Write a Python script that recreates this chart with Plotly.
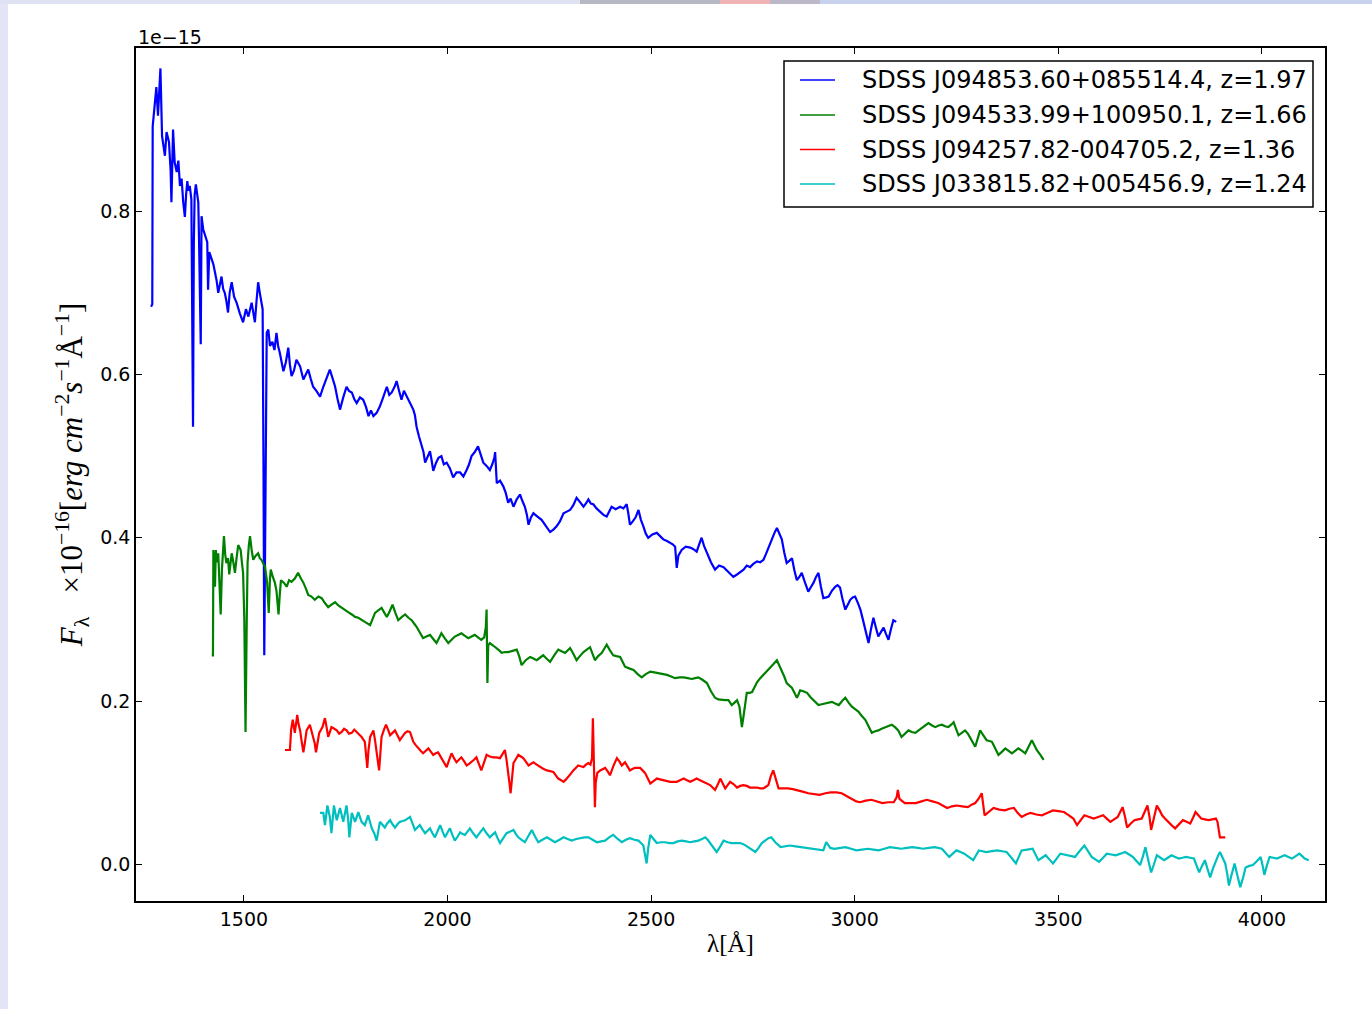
import plotly.graph_objects as go

# Rest-frame quasar spectra; flux in units of 1e-15 erg cm^-2 s^-1 A^-1
labels = [
    "SDSS J094853.60+085514.4, z=1.97",
    "SDSS J094533.99+100950.1, z=1.66",
    "SDSS J094257.82-004705.2, z=1.36",
    "SDSS J033815.82+005456.9, z=1.24",
]
colors = ["#0000ff", "#008000", "#ff0000", "#00bfbf"]

wave_a = [1272, 1275, 1276, 1281, 1285, 1289, 1292, 1295, 1299, 1302, 1306, 1310, 1316, 1320, 1322, 1326, 1330, 1335, 1339, 1343,
          1347, 1351, 1355, 1358, 1361, 1364, 1367, 1371, 1373, 1375, 1377, 1379, 1382, 1385, 1388, 1390, 1392, 1394, 1396, 1400,
          1405, 1410, 1412, 1415, 1421, 1425, 1429, 1433, 1437, 1441, 1445, 1449, 1453, 1457, 1461, 1465, 1470, 1476, 1482, 1490,
          1498, 1505, 1511, 1519, 1523, 1527, 1531, 1535, 1539, 1543, 1546, 1548, 1550, 1553, 1556, 1560, 1564, 1570, 1575, 1580,
          1584, 1588, 1592, 1597, 1603, 1609, 1613, 1617, 1623, 1629, 1638, 1646, 1652, 1658, 1664, 1670, 1678, 1687, 1695, 1703,
          1711, 1718, 1724, 1730, 1736, 1744, 1752, 1758, 1765, 1771, 1777, 1785, 1793, 1800, 1806, 1812, 1818, 1826, 1834, 1842,
          1851, 1857, 1863, 1870, 1875, 1881, 1887, 1893, 1900, 1908, 1916, 1920, 1924, 1930, 1937, 1941, 1945, 1951, 1957, 1961,
          1965, 1972, 1978, 1985, 1991, 1998, 2006, 2014, 2022, 2031, 2039, 2047, 2053, 2059, 2067, 2075, 2081, 2088, 2096, 2104,
          2110, 2115, 2117, 2119, 2121, 2129, 2137, 2143, 2149, 2155, 2162, 2170, 2178, 2184, 2190, 2195, 2199, 2205, 2211, 2221,
          2231, 2241, 2252, 2260, 2268, 2276, 2285, 2293, 2301, 2309, 2317, 2325, 2334, 2340, 2346, 2352, 2358, 2366, 2375, 2383,
          2391, 2397, 2403, 2413, 2424, 2432, 2440, 2444, 2448, 2455, 2462, 2469, 2475, 2481, 2487, 2493, 2503, 2514, 2522, 2530,
          2539, 2547, 2553, 2559, 2563, 2567, 2575, 2585, 2596, 2604, 2612, 2618, 2624, 2630, 2637, 2647, 2657, 2667, 2678, 2686,
          2694, 2702, 2711, 2719, 2727, 2735, 2743, 2751, 2760, 2768, 2776, 2782, 2788, 2796, 2803, 2809, 2815, 2821, 2827, 2833,
          2840, 2846, 2852, 2858, 2864, 2870, 2878, 2886, 2893, 2899, 2905, 2911, 2917, 2923, 2930, 2936, 2944, 2952, 2958, 2964,
          2970, 2977, 2983, 2989, 2995, 3001, 3008, 3014, 3020, 3026, 3030, 3034, 3040, 3046, 3052, 3058, 3065, 3071, 3077, 3083,
          3089, 3095, 3102]
flux_a = [0.683, 0.686, 0.904, 0.929, 0.952, 0.917, 0.955, 0.975, 0.892, 0.880, 0.868, 0.897, 0.885, 0.850, 0.811, 0.900, 0.860, 0.848, 0.862, 0.831,
          0.840, 0.811, 0.793, 0.820, 0.837, 0.825, 0.831, 0.815, 0.700, 0.536, 0.760, 0.820, 0.833, 0.820, 0.811, 0.760, 0.700, 0.637, 0.794, 0.778,
          0.770, 0.762, 0.704, 0.750, 0.741, 0.735, 0.725, 0.715, 0.700, 0.712, 0.720, 0.705, 0.700, 0.690, 0.676, 0.700, 0.713, 0.695, 0.688, 0.675,
          0.664, 0.680, 0.671, 0.688, 0.675, 0.664, 0.690, 0.713, 0.700, 0.688, 0.680, 0.500, 0.256, 0.450, 0.651, 0.655, 0.635, 0.640, 0.630, 0.651,
          0.635, 0.627, 0.615, 0.604, 0.615, 0.633, 0.612, 0.598, 0.605, 0.618, 0.610, 0.594, 0.600, 0.606, 0.595, 0.585, 0.580, 0.573, 0.585, 0.595,
          0.606, 0.595, 0.585, 0.570, 0.557, 0.572, 0.585, 0.580, 0.578, 0.570, 0.565, 0.572, 0.569, 0.560, 0.549, 0.556, 0.549, 0.553, 0.561, 0.572,
          0.585, 0.575, 0.578, 0.585, 0.592, 0.580, 0.569, 0.580, 0.573, 0.565, 0.557, 0.550, 0.536, 0.524, 0.512, 0.505, 0.492, 0.500, 0.506, 0.495,
          0.482, 0.492, 0.498, 0.500, 0.490, 0.492, 0.485, 0.474, 0.480, 0.480, 0.475, 0.483, 0.490, 0.500, 0.505, 0.512, 0.502, 0.492, 0.488, 0.483,
          0.490, 0.498, 0.505, 0.480, 0.467, 0.470, 0.463, 0.455, 0.443, 0.448, 0.438, 0.447, 0.453, 0.445, 0.438, 0.428, 0.416, 0.425, 0.430, 0.426,
          0.422, 0.415, 0.407, 0.410, 0.414, 0.420, 0.430, 0.432, 0.434, 0.440, 0.449, 0.444, 0.438, 0.442, 0.447, 0.442, 0.441, 0.436, 0.432, 0.428,
          0.426, 0.432, 0.438, 0.435, 0.438, 0.436, 0.441, 0.430, 0.416, 0.420, 0.425, 0.434, 0.422, 0.414, 0.405, 0.400, 0.404, 0.406, 0.402, 0.398,
          0.396, 0.394, 0.392, 0.389, 0.363, 0.378, 0.385, 0.389, 0.388, 0.386, 0.383, 0.392, 0.400, 0.390, 0.381, 0.370, 0.361, 0.366, 0.364, 0.360,
          0.357, 0.352, 0.355, 0.358, 0.361, 0.366, 0.364, 0.368, 0.371, 0.370, 0.373, 0.380, 0.388, 0.398, 0.406, 0.412, 0.405, 0.398, 0.382, 0.369,
          0.372, 0.375, 0.360, 0.348, 0.352, 0.357, 0.345, 0.334, 0.340, 0.345, 0.352, 0.357, 0.340, 0.326, 0.327, 0.328, 0.335, 0.340, 0.342, 0.339,
          0.325, 0.312, 0.318, 0.324, 0.327, 0.328, 0.320, 0.312, 0.300, 0.287, 0.278, 0.271, 0.288, 0.302, 0.290, 0.279, 0.285, 0.290, 0.282, 0.275,
          0.288, 0.299, 0.297]

wave_b = [1421, 1424, 1425, 1427, 1429, 1431, 1434, 1437, 1440, 1443, 1446, 1449, 1451, 1454, 1457, 1461, 1464, 1467, 1470, 1474,
          1478, 1482, 1486, 1489, 1492, 1495, 1498, 1501, 1504, 1507, 1509, 1512, 1515, 1519, 1523, 1529, 1535, 1539, 1543, 1548,
          1552, 1557, 1561, 1564, 1566, 1571, 1576, 1580, 1585, 1588, 1591, 1598, 1605, 1611, 1617, 1625, 1633, 1640, 1646, 1652,
          1658, 1666, 1674, 1683, 1691, 1699, 1707, 1715, 1724, 1732, 1740, 1748, 1756, 1765, 1773, 1781, 1789, 1800, 1810, 1816,
          1822, 1830, 1838, 1845, 1851, 1858, 1865, 1872, 1879, 1888, 1896, 1904, 1912, 1918, 1924, 1932, 1940, 1948, 1957, 1965,
          1973, 1979, 1985, 1993, 2002, 2010, 2018, 2026, 2034, 2042, 2051, 2059, 2067, 2075, 2083, 2090, 2094, 2096, 2098, 2100,
          2104, 2112, 2121, 2127, 2133, 2141, 2149, 2160, 2170, 2176, 2182, 2192, 2203, 2211, 2219, 2227, 2235, 2243, 2252, 2262,
          2272, 2280, 2289, 2295, 2301, 2309, 2317, 2325, 2334, 2342, 2350, 2356, 2362, 2370, 2379, 2385, 2391, 2399, 2407, 2415,
          2424, 2430, 2436, 2446, 2457, 2467, 2477, 2487, 2498, 2508, 2518, 2529, 2539, 2549, 2559, 2570, 2580, 2590, 2600, 2608,
          2616, 2626, 2637, 2647, 2657, 2665, 2674, 2682, 2690, 2698, 2705, 2711, 2717, 2720, 2723, 2726, 2729, 2735, 2742, 2748,
          2754, 2760, 2768, 2776, 2784, 2792, 2800, 2809, 2815, 2821, 2827, 2833, 2840, 2846, 2852, 2858, 2862, 2866, 2874, 2883,
          2891, 2899, 2905, 2911, 2919, 2928, 2936, 2944, 2952, 2961, 2969, 2977, 2985, 2993, 3001, 3009, 3017, 3026, 3034, 3042,
          3050, 3058, 3066, 3075, 3083, 3091, 3099, 3107, 3115, 3123, 3132, 3140, 3149, 3157, 3165, 3173, 3181, 3190, 3198, 3206,
          3214, 3222, 3230, 3237, 3243, 3249, 3255, 3263, 3271, 3278, 3284, 3290, 3296, 3302, 3308, 3316, 3324, 3331, 3337, 3345,
          3353, 3362, 3370, 3378, 3386, 3394, 3402, 3411, 3419, 3427, 3435, 3441, 3447, 3456, 3464]
flux_b = [0.256, 0.256, 0.385, 0.360, 0.340, 0.385, 0.370, 0.381, 0.350, 0.306, 0.361, 0.385, 0.402, 0.380, 0.369, 0.375, 0.355, 0.368, 0.381, 0.370,
          0.357, 0.375, 0.391, 0.388, 0.385, 0.370, 0.357, 0.300, 0.162, 0.300, 0.369, 0.390, 0.402, 0.385, 0.373, 0.378, 0.381, 0.375, 0.373, 0.368,
          0.364, 0.345, 0.308, 0.350, 0.361, 0.352, 0.345, 0.335, 0.306, 0.330, 0.348, 0.345, 0.340, 0.348, 0.346, 0.350, 0.357, 0.350, 0.345, 0.338,
          0.330, 0.328, 0.324, 0.328, 0.326, 0.320, 0.315, 0.318, 0.321, 0.317, 0.314, 0.312, 0.309, 0.306, 0.303, 0.302, 0.299, 0.296, 0.293, 0.300,
          0.308, 0.311, 0.314, 0.308, 0.303, 0.310, 0.318, 0.308, 0.299, 0.303, 0.306, 0.302, 0.299, 0.295, 0.291, 0.284, 0.277, 0.279, 0.281, 0.276,
          0.271, 0.277, 0.283, 0.277, 0.271, 0.275, 0.279, 0.281, 0.283, 0.280, 0.277, 0.279, 0.281, 0.278, 0.275, 0.278, 0.290, 0.312, 0.222, 0.268,
          0.271, 0.268, 0.265, 0.262, 0.259, 0.260, 0.260, 0.262, 0.263, 0.255, 0.244, 0.250, 0.254, 0.252, 0.250, 0.253, 0.256, 0.252, 0.248, 0.256,
          0.263, 0.261, 0.259, 0.262, 0.265, 0.258, 0.250, 0.255, 0.260, 0.263, 0.266, 0.258, 0.250, 0.255, 0.259, 0.264, 0.269, 0.262, 0.256, 0.255,
          0.254, 0.248, 0.242, 0.240, 0.238, 0.233, 0.229, 0.233, 0.236, 0.235, 0.234, 0.233, 0.232, 0.230, 0.228, 0.229, 0.229, 0.228, 0.227, 0.228,
          0.229, 0.226, 0.222, 0.212, 0.204, 0.202, 0.201, 0.201, 0.201, 0.195, 0.198, 0.201, 0.193, 0.180, 0.168, 0.178, 0.189, 0.210, 0.210, 0.211,
          0.217, 0.223, 0.228, 0.232, 0.236, 0.240, 0.245, 0.250, 0.244, 0.238, 0.230, 0.222, 0.219, 0.216, 0.210, 0.204, 0.208, 0.213, 0.212, 0.210,
          0.205, 0.201, 0.198, 0.195, 0.196, 0.197, 0.198, 0.199, 0.197, 0.195, 0.200, 0.204, 0.198, 0.193, 0.190, 0.187, 0.182, 0.177, 0.169, 0.161,
          0.163, 0.164, 0.166, 0.168, 0.170, 0.171, 0.168, 0.164, 0.156, 0.160, 0.164, 0.162, 0.161, 0.164, 0.167, 0.170, 0.173, 0.170, 0.168, 0.170,
          0.171, 0.169, 0.168, 0.171, 0.174, 0.166, 0.158, 0.161, 0.164, 0.160, 0.155, 0.150, 0.144, 0.154, 0.164, 0.158, 0.152, 0.151, 0.150, 0.142,
          0.134, 0.138, 0.142, 0.139, 0.136, 0.139, 0.142, 0.139, 0.136, 0.144, 0.152, 0.146, 0.140, 0.134, 0.128]

wave_c = [1601, 1613, 1616, 1620, 1625, 1631, 1634, 1638, 1642, 1646, 1650, 1654, 1662, 1666, 1670, 1674, 1677, 1681, 1685, 1693,
          1699, 1703, 1707, 1711, 1715, 1722, 1728, 1734, 1740, 1746, 1752, 1758, 1765, 1771, 1777, 1783, 1789, 1797, 1800, 1803,
          1806, 1810, 1814, 1818, 1822, 1826, 1829, 1832, 1835, 1838, 1844, 1849, 1854, 1859, 1865, 1871, 1877, 1883, 1890, 1896,
          1902, 1908, 1912, 1916, 1922, 1928, 1934, 1940, 1946, 1953, 1959, 1965, 1971, 1977, 1984, 1990, 1994, 1998, 2004, 2010,
          2016, 2022, 2028, 2034, 2041, 2047, 2053, 2059, 2065, 2071, 2077, 2083, 2090, 2096, 2104, 2112, 2120, 2129, 2135, 2141,
          2145, 2149, 2152, 2155, 2158, 2162, 2168, 2174, 2180, 2186, 2192, 2199, 2205, 2211, 2219, 2227, 2235, 2244, 2252, 2260,
          2266, 2272, 2279, 2285, 2291, 2297, 2303, 2309, 2315, 2321, 2327, 2334, 2340, 2346, 2351, 2355, 2357, 2359, 2361, 2362,
          2364, 2368, 2375, 2381, 2387, 2393, 2399, 2407, 2416, 2422, 2428, 2432, 2436, 2442, 2448, 2455, 2461, 2467, 2473, 2479,
          2485, 2491, 2498, 2506, 2514, 2522, 2530, 2538, 2547, 2555, 2563, 2571, 2580, 2588, 2596, 2604, 2612, 2620, 2628, 2637,
          2645, 2651, 2657, 2664, 2670, 2676, 2682, 2688, 2694, 2703, 2711, 2719, 2727, 2735, 2743, 2751, 2760, 2768, 2776, 2782,
          2788, 2794, 2800, 2806, 2813, 2825, 2836, 2848, 2859, 2872, 2886, 2900, 2914, 2928, 2941, 2955, 2968, 2982, 2995, 3004,
          3013, 3027, 3041, 3055, 3068, 3082, 3096, 3103, 3106, 3110, 3123, 3136, 3150, 3164, 3177, 3191, 3205, 3216, 3227, 3239,
          3250, 3264, 3278, 3287, 3296, 3304, 3312, 3319, 3330, 3341, 3355, 3369, 3380, 3391, 3400, 3410, 3421, 3432, 3446, 3460,
          3474, 3487, 3500, 3514, 3526, 3537, 3546, 3555, 3564, 3576, 3587, 3598, 3610, 3619, 3628, 3637, 3646, 3652, 3658, 3664,
          3669, 3678, 3687, 3696, 3705, 3712, 3719, 3724, 3728, 3735, 3742, 3749, 3755, 3762, 3769, 3778, 3787, 3796, 3806, 3815,
          3824, 3831, 3837, 3844, 3851, 3860, 3869, 3878, 3887, 3891, 3894, 3897, 3910]
flux_c = [0.140, 0.140, 0.165, 0.177, 0.161, 0.183, 0.172, 0.164, 0.150, 0.137, 0.150, 0.164, 0.171, 0.162, 0.156, 0.148, 0.137, 0.150, 0.161, 0.168,
          0.179, 0.168, 0.156, 0.162, 0.168, 0.166, 0.164, 0.160, 0.162, 0.166, 0.164, 0.160, 0.161, 0.165, 0.162, 0.158, 0.156, 0.150, 0.135, 0.118,
          0.140, 0.156, 0.160, 0.164, 0.152, 0.137, 0.125, 0.115, 0.135, 0.156, 0.165, 0.171, 0.165, 0.158, 0.161, 0.164, 0.158, 0.152, 0.157, 0.161,
          0.163, 0.162, 0.156, 0.150, 0.146, 0.142, 0.139, 0.136, 0.139, 0.142, 0.138, 0.134, 0.136, 0.137, 0.131, 0.125, 0.122, 0.119, 0.128, 0.136,
          0.130, 0.125, 0.128, 0.131, 0.126, 0.121, 0.123, 0.125, 0.128, 0.131, 0.123, 0.115, 0.125, 0.134, 0.132, 0.131, 0.131, 0.130, 0.135, 0.140,
          0.128, 0.115, 0.100, 0.087, 0.105, 0.124, 0.129, 0.134, 0.132, 0.130, 0.126, 0.121, 0.123, 0.125, 0.122, 0.119, 0.117, 0.115, 0.114, 0.113,
          0.109, 0.105, 0.103, 0.101, 0.104, 0.107, 0.111, 0.115, 0.118, 0.121, 0.120, 0.119, 0.122, 0.124, 0.122, 0.130, 0.179, 0.120, 0.090, 0.070,
          0.100, 0.112, 0.115, 0.117, 0.118, 0.114, 0.109, 0.120, 0.130, 0.126, 0.121, 0.123, 0.125, 0.120, 0.115, 0.117, 0.118, 0.118, 0.118, 0.115,
          0.112, 0.106, 0.099, 0.102, 0.105, 0.104, 0.103, 0.102, 0.101, 0.101, 0.101, 0.103, 0.105, 0.103, 0.101, 0.103, 0.105, 0.103, 0.101, 0.099,
          0.097, 0.094, 0.091, 0.098, 0.105, 0.099, 0.093, 0.097, 0.101, 0.098, 0.094, 0.096, 0.097, 0.096, 0.094, 0.094, 0.094, 0.093, 0.093, 0.095,
          0.097, 0.108, 0.115, 0.105, 0.093, 0.093, 0.093, 0.092, 0.091, 0.089, 0.087, 0.086, 0.085, 0.087, 0.088, 0.088, 0.087, 0.083, 0.079, 0.077,
          0.076, 0.078, 0.079, 0.077, 0.075, 0.076, 0.076, 0.082, 0.091, 0.080, 0.075, 0.075, 0.075, 0.077, 0.079, 0.077, 0.075, 0.072, 0.069, 0.071,
          0.072, 0.071, 0.070, 0.073, 0.075, 0.080, 0.087, 0.060, 0.065, 0.069, 0.067, 0.066, 0.068, 0.069, 0.063, 0.058, 0.061, 0.063, 0.061, 0.060,
          0.063, 0.066, 0.065, 0.064, 0.060, 0.056, 0.048, 0.054, 0.060, 0.058, 0.056, 0.058, 0.060, 0.056, 0.052, 0.055, 0.058, 0.064, 0.070, 0.058,
          0.045, 0.050, 0.054, 0.055, 0.056, 0.064, 0.072, 0.058, 0.042, 0.057, 0.072, 0.066, 0.060, 0.056, 0.052, 0.048, 0.044, 0.049, 0.054, 0.052,
          0.050, 0.057, 0.064, 0.060, 0.056, 0.055, 0.054, 0.055, 0.056, 0.052, 0.042, 0.033, 0.033]

wave_d = [1687, 1695, 1699, 1705, 1711, 1715, 1721, 1728, 1736, 1744, 1752, 1756, 1759, 1765, 1773, 1781, 1789, 1797, 1805, 1814,
          1820, 1826, 1834, 1840, 1846, 1852, 1859, 1865, 1871, 1877, 1883, 1890, 1896, 1902, 1908, 1914, 1920, 1926, 1932, 1938,
          1945, 1951, 1957, 1963, 1969, 1976, 1982, 1988, 1994, 2000, 2006, 2012, 2018, 2025, 2031, 2037, 2043, 2049, 2055, 2063,
          2071, 2080, 2088, 2096, 2104, 2110, 2117, 2123, 2129, 2137, 2145, 2154, 2162, 2168, 2174, 2182, 2190, 2199, 2207, 2215,
          2223, 2233, 2244, 2254, 2264, 2275, 2285, 2295, 2305, 2316, 2326, 2336, 2346, 2357, 2367, 2377, 2387, 2397, 2407, 2418,
          2428, 2438, 2448, 2459, 2469, 2475, 2481, 2485, 2489, 2493, 2498, 2506, 2514, 2524, 2534, 2545, 2555, 2565, 2575, 2586,
          2596, 2606, 2616, 2625, 2633, 2639, 2645, 2653, 2661, 2670, 2678, 2688, 2698, 2709, 2719, 2729, 2739, 2748, 2756, 2764,
          2772, 2780, 2788, 2795, 2805, 2818, 2830, 2841, 2855, 2868, 2882, 2895, 2909, 2923, 2930, 2940, 2950, 2964, 2977, 2991,
          3004, 3018, 3032, 3046, 3059, 3073, 3086, 3100, 3114, 3128, 3141, 3155, 3168, 3182, 3196, 3205, 3214, 3223, 3232, 3241,
          3250, 3260, 3269, 3280, 3291, 3298, 3305, 3314, 3323, 3337, 3350, 3362, 3373, 3385, 3396, 3403, 3410, 3424, 3437, 3444,
          3451, 3460, 3469, 3478, 3487, 3496, 3505, 3514, 3523, 3532, 3541, 3552, 3564, 3573, 3582, 3591, 3600, 3610, 3619, 3630,
          3641, 3653, 3664, 3674, 3683, 3692, 3701, 3708, 3714, 3721, 3728, 3735, 3742, 3751, 3760, 3769, 3778, 3787, 3796, 3805,
          3814, 3824, 3833, 3840, 3846, 3853, 3860, 3866, 3873, 3880, 3887, 3892, 3897, 3903, 3910, 3915, 3919, 3926, 3933, 3940,
          3947, 3954, 3960, 3969, 3978, 3988, 3997, 4002, 4006, 4012, 4019, 4028, 4037, 4046, 4056, 4065, 4074, 4083, 4092, 4099,
          4105, 4115]
flux_d = [0.063, 0.063, 0.048, 0.072, 0.058, 0.038, 0.072, 0.054, 0.069, 0.052, 0.072, 0.055, 0.033, 0.063, 0.052, 0.064, 0.052, 0.048, 0.060, 0.044,
          0.038, 0.029, 0.052, 0.048, 0.045, 0.050, 0.054, 0.049, 0.045, 0.049, 0.052, 0.053, 0.054, 0.056, 0.058, 0.050, 0.042, 0.045, 0.048, 0.043,
          0.038, 0.041, 0.044, 0.038, 0.033, 0.041, 0.048, 0.040, 0.033, 0.039, 0.044, 0.036, 0.029, 0.034, 0.039, 0.037, 0.036, 0.040, 0.044, 0.038,
          0.033, 0.039, 0.044, 0.038, 0.033, 0.036, 0.039, 0.032, 0.026, 0.032, 0.038, 0.040, 0.042, 0.037, 0.033, 0.030, 0.027, 0.035, 0.042, 0.034,
          0.027, 0.030, 0.033, 0.030, 0.027, 0.030, 0.033, 0.031, 0.029, 0.031, 0.032, 0.033, 0.033, 0.030, 0.027, 0.028, 0.029, 0.033, 0.036, 0.031,
          0.027, 0.030, 0.032, 0.030, 0.029, 0.026, 0.023, 0.012, 0.001, 0.020, 0.036, 0.031, 0.026, 0.027, 0.027, 0.026, 0.026, 0.028, 0.029, 0.028,
          0.027, 0.028, 0.029, 0.031, 0.033, 0.030, 0.026, 0.021, 0.015, 0.022, 0.029, 0.027, 0.026, 0.026, 0.026, 0.024, 0.021, 0.018, 0.015, 0.020,
          0.026, 0.029, 0.032, 0.033, 0.027, 0.021, 0.022, 0.023, 0.022, 0.021, 0.020, 0.019, 0.018, 0.017, 0.027, 0.020, 0.019, 0.020, 0.021, 0.019,
          0.017, 0.018, 0.019, 0.018, 0.017, 0.019, 0.021, 0.020, 0.019, 0.020, 0.021, 0.020, 0.019, 0.020, 0.021, 0.020, 0.019, 0.014, 0.009, 0.013,
          0.017, 0.015, 0.013, 0.009, 0.005, 0.011, 0.017, 0.016, 0.015, 0.016, 0.017, 0.016, 0.015, 0.008, 0.001, 0.009, 0.017, 0.018, 0.019, 0.012,
          0.005, 0.008, 0.011, 0.006, 0.001, 0.007, 0.013, 0.012, 0.011, 0.010, 0.009, 0.016, 0.023, 0.016, 0.009, 0.006, 0.003, 0.008, 0.013, 0.012,
          0.011, 0.013, 0.015, 0.012, 0.009, 0.004, -0.001, 0.010, 0.021, 0.005, -0.010, 0.000, 0.011, 0.008, 0.005, 0.008, 0.011, 0.009, 0.007, 0.008,
          0.009, 0.008, 0.007, -0.002, -0.010, -0.002, 0.005, -0.005, -0.016, -0.005, 0.005, 0.010, 0.015, 0.008, 0.001, -0.012, -0.026, -0.012, 0.001, -0.014,
          -0.028, -0.016, -0.004, -0.002, -0.001, 0.004, 0.009, -0.002, -0.013, -0.002, 0.009, 0.008, 0.007, 0.009, 0.011, 0.009, 0.007, 0.010, 0.013, 0.010,
          0.007, 0.005]

x_ticks = [1500, 2000, 2500, 3000, 3500, 4000]
y_ticks = [0.0, 0.2, 0.4, 0.6, 0.8]

series = [(wave_a, flux_a), (wave_b, flux_b), (wave_c, flux_c), (wave_d, flux_d)]

# plot area in pixels (left, top, right, bottom)
PL, PT, PR, PB = 136, 48, 1325, 901
W = float(PR - PL)
H = float(PB - PT)


def fx(px):
    return (px - PL) / W


def fy(py):
    return (PB - py) / H


fig = go.Figure()
for (w, f), name, col in zip(series, labels, colors):
    fig.add_trace(go.Scatter(x=w, y=f, mode="lines", name=name, showlegend=False,
                             line=dict(color=col, width=2.2)))

axis_common = dict(
    showgrid=False, zeroline=False, showline=True, linecolor="black", linewidth=1.5,
    mirror="allticks", ticks="inside", ticklen=6, tickwidth=1, tickcolor="black",
    tickfont=dict(family="DejaVu Sans", size=19, color="black"),
)

fig.update_layout(
    width=1372, height=1009,
    margin=dict(l=PL, r=1372 - PR, t=PT, b=1009 - PB),
    paper_bgcolor="white", plot_bgcolor="white",
    showlegend=False,
    xaxis=dict(range=[1235, 4155], tickvals=x_ticks,
               title=dict(text="λ[Å]", standoff=6,
                          font=dict(family="Liberation Serif", size=25, color="black")),
               **axis_common),
    yaxis=dict(range=[-0.045, 1.0], tickvals=y_ticks, tickformat=".1f",
               title=dict(text="<i>F</i><sub>λ</sub>   ×10<sup>−16</sup>[<i>erg cm</i><sup>−2</sup><i>s</i><sup>−1</sup>Å<sup>−1</sup>]",
                          standoff=8,
                          font=dict(family="Liberation Serif", size=31, color="black")),
               **axis_common),
)

# scale factor shown above the y axis
fig.add_annotation(text="1e−15", xref="paper", yref="paper", x=0, y=1,
                   xanchor="left", yanchor="bottom", yshift=-2, showarrow=False,
                   font=dict(family="DejaVu Sans", size=19, color="black"))

# legend box with a line sample and label per spectrum
fig.add_shape(type="rect", xref="paper", yref="paper", layer="above",
              x0=fx(784), x1=fx(1313), y0=fy(207), y1=fy(61),
              line=dict(color="black", width=1.5), fillcolor="white")
row_y = [80, 115, 149.5, 184]
for ry, name, col in zip(row_y, labels, colors):
    fig.add_shape(type="line", xref="paper", yref="paper", layer="above",
                  x0=fx(800), x1=fx(835), y0=fy(ry), y1=fy(ry),
                  line=dict(color=col, width=1.6))
    fig.add_annotation(text=name, xref="paper", yref="paper", x=fx(860), y=fy(ry),
                       xanchor="left", yanchor="middle", showarrow=False,
                       font=dict(family="DejaVu Sans", size=24, color="black"))


# window frame strips along the left and top edges
def px_rect(x0, x1, y0, y1, color):
    fig.add_shape(type="rect", xref="paper", yref="paper", layer="below",
                  x0=fx(x0), x1=fx(x1), y0=fy(y1), y1=fy(y0),
                  line=dict(width=0), fillcolor=color)


px_rect(0, 8, 0, 1009, "#e3e5f7")
px_rect(0, 580, 0, 4, "#dfe2f3")
px_rect(580, 720, 0, 4, "#b6b9c3")
px_rect(720, 770, 0, 4, "#efb3b6")
px_rect(770, 820, 0, 4, "#bdb8c8")
px_rect(820, 1372, 0, 4, "#c8d2ec")

fig.write_html("out.html")
